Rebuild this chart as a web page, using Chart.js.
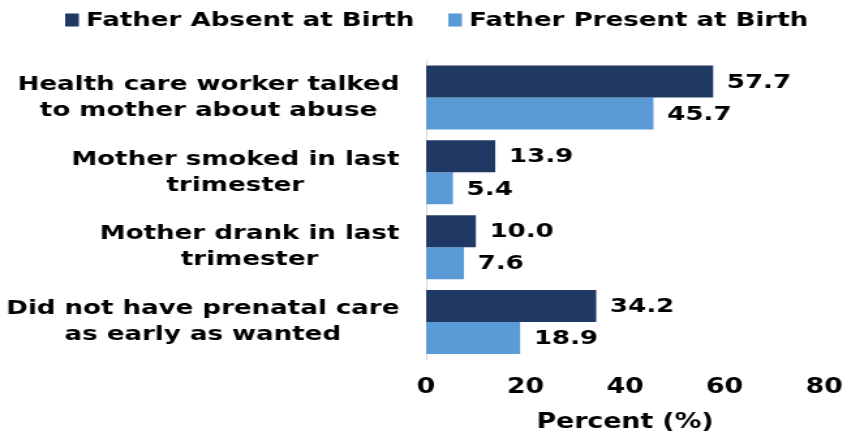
<!DOCTYPE html>
<html><head><meta charset="utf-8">
<script src="https://cdn.jsdelivr.net/npm/chart.js@4"></script>
<style>html,body{margin:0;padding:0;background:#fff}canvas{display:block}</style>
</head><body>
<canvas id="c" width="650" height="433" style="width:847px;height:433px"></canvas>
<script>
const categories = [
  ["Health care worker talked", "to mother about abuse"],
  ["Mother smoked in last", "trimester"],
  ["Mother drank in last", "trimester"],
  ["Did not have prenatal care", "as early as wanted"]
];
const absentValues = [57.7, 13.9, 10.0, 34.2];
const presentValues = [45.7, 5.4, 7.6, 18.9];
const xTicks = [0, 20, 40, 60, 80];
const seriesNames = ["Father Absent at Birth", "Father Present at Birth"];
const seriesColors = ["#1F3864", "#5B9BD5"];

const FONT = "'DejaVu Sans', Verdana, sans-serif";

const valueLabels = {
  id: 'valueLabels',
  afterDatasetsDraw(chart) {
    const ctx = chart.ctx;
    ctx.save();
    ctx.font = "bold 20px " + FONT;
    ctx.fillStyle = '#000';
    ctx.textAlign = 'left';
    ctx.textBaseline = 'middle';
    chart.data.datasets.forEach((ds, i) => {
      chart.getDatasetMeta(i).data.forEach((bar, j) => {
        ctx.fillText(ds.data[j].toFixed(1), bar.x + 10.5, bar.y + 1);
      });
    });
    ctx.restore();
  }
};

const catLabels = {
  id: 'catLabels',
  afterDraw(chart) {
    const ctx = chart.ctx;
    const y = chart.scales.y;
    const rightEdge = chart.chartArea.left - 20.5;
    ctx.save();
    ctx.font = "bold 20px " + FONT;
    ctx.fillStyle = '#000';
    ctx.textAlign = 'center';
    ctx.textBaseline = 'middle';
    categories.forEach((lines, i) => {
      const cy = y.getPixelForTick(i);
      const w = Math.max(...lines.map(l => ctx.measureText(l).width));
      const cx = rightEdge - w / 2;
      lines.forEach((l, k) => {
        ctx.fillText(l, cx, cy + (k - (lines.length - 1) / 2) * 26);
      });
    });
    ctx.restore();
  }
};

const customLegend = {
  id: 'customLegend',
  afterDraw(chart) {
    const ctx = chart.ctx;
    ctx.save();
    ctx.font = "bold 20px " + FONT;
    ctx.textBaseline = 'middle';
    ctx.textAlign = 'left';
    const box = 10.5, gap = 5.5, spacing = 26;
    let x = 50;
    const cy = 20;
    seriesNames.forEach((n, i) => {
      ctx.fillStyle = seriesColors[i];
      ctx.fillRect(x, cy - 6.5, box, 13);
      ctx.fillStyle = '#000';
      ctx.fillText(n, x + box + gap, cy + 1);
      x += box + gap + ctx.measureText(n).width + spacing;
    });
    ctx.restore();
  }
};

new Chart(document.getElementById('c'), {
  type: 'bar',
  data: {
    labels: categories,
    datasets: [
      { label: seriesNames[0], data: absentValues, backgroundColor: seriesColors[0], borderWidth: 0 },
      { label: seriesNames[1], data: presentValues, backgroundColor: seriesColors[1], borderWidth: 0 }
    ]
  },
  options: {
    indexAxis: 'y',
    responsive: false,
    animation: false,
    devicePixelRatio: 1,
    layout: { padding: { left: 0, right: 17.6, top: 60, bottom: 0 } },
    plugins: {
      legend: { display: false },
      tooltip: { enabled: false }
    },
    datasets: { bar: { categoryPercentage: 0.856, barPercentage: 1.0 } },
    scales: {
      x: {
        min: 0, max: 80,
        afterBuildTicks(s) { s.ticks = xTicks.map(v => ({ value: v })); },
        afterFit(s) { s.height = 73.5; s.paddingLeft = 0; s.paddingRight = 0; },
        grid: { display: false },
        border: { display: false },
        ticks: { font: { family: FONT, size: 20.5, weight: 'bold' }, color: '#000', padding: 8, maxRotation: 0 },
        title: { display: true, text: 'Percent (%)', font: { family: FONT, size: 20.5, weight: 'bold' }, color: '#000', padding: { top: 0, bottom: -2 } }
      },
      y: {
        grid: { display: false },
        border: { display: true, color: '#d9d9d9', width: 1 },
        ticks: { display: false },
        afterFit(s) { s.width = 327; }
      }
    }
  },
  plugins: [valueLabels, catLabels, customLegend]
});
</script>
</body></html>
